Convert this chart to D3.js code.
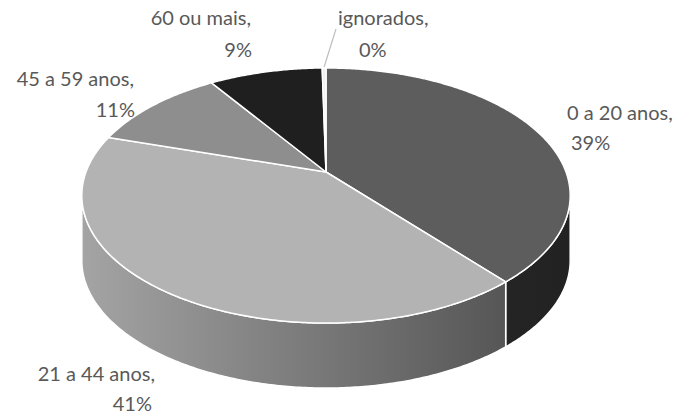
<!DOCTYPE html>
<html><head><meta charset="utf-8">
<script src="https://cdn.jsdelivr.net/npm/d3@7"></script>
<style>html,body{margin:0;padding:0;background:#fff;} svg{display:block;}</style>
</head><body><svg id="c" width="680" height="414"></svg>
<script>
// ---- data ----
const categories = ["0 a 20 anos", "21 a 44 anos", "45 a 59 anos", "60 ou mais", "ignorados"];
const values = [39, 41, 11, 9, 0.3];

// ---- styles ----
const topColors = ["#5d5d5d", "#b3b3b3", "#8e8e8e", "#1f1f1f", "#f0f0f0"];
const sideLeft  = ["#333333", "#a4a4a4", "#8a8a8a", "#1a1a1a", "#eeeeee"];
const sideRight = ["#222222", "#4a4a4a", "#4a4a4a", "#111111", "#dddddd"];

// label layout (positions only)
const labelLayout = {
  "0 a 20 anos":  {anchor: "start", l1: [567, 120], l2: [571, 150]},
  "21 a 44 anos": {anchor: "end",   l1: [155, 381], l2: [152, 411]},
  "45 a 59 anos": {anchor: "end",   l1: [134, 86],  l2: [135, 117]},
  "60 ou mais":   {anchor: "end",   l1: [251, 25],  l2: [252, 57]},
  "ignorados":    {anchor: "start", l1: [338, 25],  l2: [359, 57]}
};

const svg = d3.select("#c");
const cx = 326, cy = 172, A = 240, B = 123.2, k = 0.1843, depth = 65;
const xs = d3.scaleLinear().domain([-1, 1]).range([cx - A, cx + A]);
const ys = d3.scaleLinear().domain([-1, 1]).range([cy - B, cy + B]);

function proj(theta, r = 1) {
  const u = r * Math.sin(theta), v = -r * Math.cos(theta);
  const w = 1 - k * v;
  return [xs(u / w), ys(v / w)];
}

const data = categories.map((c, i) => ({name: c, value: values[i], i}));
const total = d3.sum(values);
const arcs = d3.pie().sort(null).value(d => d.value)(data);

const line = d3.line();
function arcPts(a0, a1, r = 1) {
  const n = Math.max(2, Math.ceil(Math.abs(a1 - a0) / 0.01));
  return d3.range(n + 1).map(j => proj(a0 + (a1 - a0) * j / n, r));
}

// gradients for sides
const defs = svg.append("defs");
const xL = xs(-1 / Math.sqrt(1 - k * k)), xR = xs(1 / Math.sqrt(1 - k * k));
arcs.forEach((a, i) => {
  const g = defs.append("linearGradient").attr("id", "g" + i)
    .attr("gradientUnits", "userSpaceOnUse")
    .attr("x1", xL).attr("x2", xR).attr("y1", 0).attr("y2", 0);
  g.append("stop").attr("offset", "0%").attr("stop-color", sideLeft[i]);
  g.append("stop").attr("offset", "100%").attr("stop-color", sideRight[i]);
});

// visible side range
const t1 = Math.acos(-k), t2 = 2 * Math.PI - Math.acos(-k);
arcs.forEach((a, i) => {
  const s = Math.max(a.startAngle, t1), e = Math.min(a.endAngle, t2);
  if (e <= s) return;
  const top = arcPts(s, e);
  const bot = top.slice().reverse().map(p => [p[0], p[1] + depth]);
  svg.append("path").attr("d", line(top.concat(bot)) + "Z")
    .attr("fill", `url(#g${i})`).attr("stroke", "#fff").attr("stroke-width", 1.5)
    .attr("stroke-linejoin", "round");
});

// top faces
arcs.forEach((a, i) => {
  const pts = [proj(0, 0)].concat(arcPts(a.startAngle, a.endAngle));
  svg.append("path").attr("d", line(pts) + "Z")
    .attr("fill", topColors[i]).attr("stroke", "#fff").attr("stroke-width", 1.5)
    .attr("stroke-linejoin", "round");
});

// leader line for ignorados
const ig = arcs[4];
const pTop = proj((ig.startAngle + ig.endAngle) / 2);
svg.append("line").attr("x1", pTop[0]).attr("y1", pTop[1] - 1)
  .attr("x2", 336).attr("y2", 29)
  .attr("stroke", "#bfbfbf").attr("stroke-width", 1.2);

// labels
arcs.forEach((a, i) => {
  const L = labelLayout[a.data.name];
  const pct = Math.round(a.data.value / total * 100) + "%";
  const g = svg.append("g").attr("font-family", "Lato, 'Open Sans', sans-serif")
    .attr("font-size", 20).attr("fill", "#595959").attr("text-anchor", L.anchor);
  g.append("text").attr("x", L.l1[0]).attr("y", L.l1[1]).text(a.data.name + ",");
  g.append("text").attr("x", L.l2[0]).attr("y", L.l2[1]).text(pct);
});
</script></body></html>
